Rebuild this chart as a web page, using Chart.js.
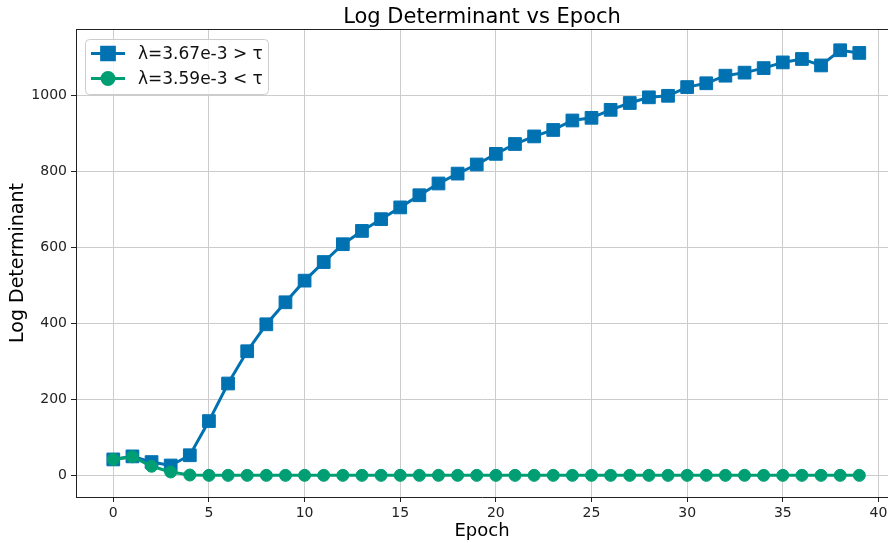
<!DOCTYPE html>
<html>
<head>
<meta charset="utf-8">
<script src="https://cdn.jsdelivr.net/npm/chart.js@4.4.1/dist/chart.umd.min.js"></script>
<style>
  html, body { margin: 0; padding: 0; overflow: hidden; background: #fff; }
  canvas { display: block; }
</style>
</head>
<body>
<canvas id="c" width="888" height="543" style="width:888px;height:543px"></canvas>
<script>
// Training epochs
const epochs = Array.from({ length: 40 }, (_, i) => i);

// Log determinant per epoch, above the threshold
const logDetAbove = [
  42, 50, 35, 26, 53, 143, 242, 327, 398, 456,
  513, 562, 609, 644, 675, 706, 738, 769, 795, 819,
  847, 873, 893, 910, 935, 942, 963, 981, 996, 1000,
  1023, 1033, 1053, 1061, 1073, 1088, 1097, 1080, 1120, 1113
];

// Log determinant per epoch, below the threshold
const logDetBelow = [
  42, 49, 24, 9, 1, 0, 0, 0, 0, 0,
  0, 0, 0, 0, 0, 0, 0, 0, 0, 0,
  0, 0, 0, 0, 0, 0, 0, 0, 0, 0,
  0, 0, 0, 0, 0, 0, 0, 0, 0, 0
];

const seriesLabels = ['λ=3.67e-3 > τ', 'λ=3.59e-3 < τ'];
const xTickValues = [0, 5, 10, 15, 20, 25, 30, 35, 40];
const yTickValues = [0, 200, 400, 600, 800, 1000];

const BLUE = '#0072B2';
const GREEN = '#009E73';
const FONT = '"DejaVu Sans", sans-serif';

// Top spine of the plotting area
const framePlugin = {
  id: 'frame',
  afterDatasetsDraw(chart) {
    const { ctx, chartArea: a } = chart;
    ctx.save();
    ctx.strokeStyle = '#222';
    ctx.lineWidth = 1;
    ctx.beginPath();
    const y = Math.round(a.top) + 0.5;
    ctx.moveTo(a.left, y);
    ctx.lineTo(a.right, y);
    ctx.stroke();
    ctx.restore();
  }
};

// Legend box in the upper-left corner of the plot
const insetLegend = {
  id: 'insetLegend',
  afterDraw(chart) {
    const { ctx, chartArea: a } = chart;
    const x0 = a.left + 9, y0 = a.top + 10, w = 183, h = 55, rowH = 25;
    ctx.save();
    ctx.beginPath();
    ctx.roundRect(x0 + 0.5, y0 + 0.5, w, h, 4);
    ctx.fillStyle = 'rgba(255,255,255,0.8)';
    ctx.fill();
    ctx.strokeStyle = '#cccccc';
    ctx.lineWidth = 1;
    ctx.stroke();
    ctx.font = '17px ' + FONT;
    ctx.textBaseline = 'middle';
    chart.data.datasets.forEach((ds, i) => {
      const cy = y0 + 14.5 + i * rowH;
      ctx.strokeStyle = ds.borderColor;
      ctx.lineWidth = ds.borderWidth;
      ctx.beginPath();
      ctx.moveTo(x0 + 6, cy);
      ctx.lineTo(x0 + 40, cy);
      ctx.stroke();
      Chart.helpers.drawPoint(ctx, {
        pointStyle: ds.pointStyle,
        radius: ds.pointRadius,
        borderWidth: ds.pointBorderWidth
      }, x0 + 23, cy);
      ctx.fillStyle = ds.backgroundColor;
      ctx.fill();
      ctx.strokeStyle = ds.borderColor;
      ctx.lineWidth = ds.pointBorderWidth;
      ctx.stroke();
      ctx.fillStyle = '#111';
      ctx.fillText(ds.label, x0 + 53, cy + 1);
    });
    ctx.restore();
  }
};

new Chart(document.getElementById('c'), {
  type: 'line',
  data: {
    datasets: [
      {
        label: seriesLabels[0],
        data: epochs.map((e, i) => ({ x: e, y: logDetAbove[i] })),
        borderColor: BLUE,
        backgroundColor: BLUE,
        borderWidth: 3,
        pointStyle: 'rect',
        pointRadius: 9,
        pointBorderWidth: 1,
        pointBackgroundColor: BLUE,
        pointBorderColor: BLUE,
        order: 2
      },
      {
        label: seriesLabels[1],
        data: epochs.map((e, i) => ({ x: e, y: logDetBelow[i] })),
        borderColor: GREEN,
        backgroundColor: GREEN,
        borderWidth: 3,
        pointStyle: 'circle',
        pointRadius: 6,
        pointBorderWidth: 1,
        pointBackgroundColor: GREEN,
        pointBorderColor: GREEN,
        order: 1
      }
    ]
  },
  options: {
    responsive: false,
    animation: false,
    layout: { autoPadding: false, padding: { left: 0, right: 0, top: 0, bottom: 0 } },
    plugins: {
      legend: { display: false },
      tooltip: { enabled: false },
      title: {
        display: true,
        text: 'Log Determinant vs Epoch',
        fullSize: false,
        color: '#000',
        font: { family: FONT, size: 21, weight: 'normal', lineHeight: 1.0 },
        padding: { top: 7, bottom: 1 }
      }
    },
    scales: {
      x: {
        type: 'linear',
        min: -1.95,
        max: 40.5,
        afterFit(s) { s.height = 46; s.paddingLeft = 0; s.paddingRight = 0; },
        afterBuildTicks(s) { s.ticks = xTickValues.map(v => ({ value: v })); },
        grid: { color: '#cccccc', tickColor: '#222', tickLength: 5, lineWidth: 1 },
        border: { color: '#222', width: 1 },
        ticks: {
          color: '#222', font: { family: FONT, size: 14 }, padding: 3,
          maxRotation: 0, autoSkip: false,
          callback: v => String(v)
        },
        title: {
          display: true, text: 'Epoch', color: '#000',
          font: { family: FONT, size: 18 }, padding: { top: 0, bottom: 1 }
        }
      },
      y: {
        type: 'linear',
        min: -57,
        max: 1176,
        afterFit(s) { s.width = 76; s.paddingTop = 0; s.paddingBottom = 0; },
        afterBuildTicks(s) { s.ticks = yTickValues.map(v => ({ value: v })); },
        grid: { color: '#cccccc', tickColor: '#222', tickLength: 5, lineWidth: 1 },
        border: { color: '#222', width: 1 },
        ticks: {
          color: '#222', font: { family: FONT, size: 14 }, padding: 4, autoSkip: false,
          callback: v => String(v)
        },
        title: {
          display: true, text: 'Log Determinant', color: '#000',
          font: { family: FONT, size: 19 }, padding: { top: 7, bottom: 0 }
        }
      }
    }
  },
  plugins: [framePlugin, insetLegend]
});
</script>
</body>
</html>
